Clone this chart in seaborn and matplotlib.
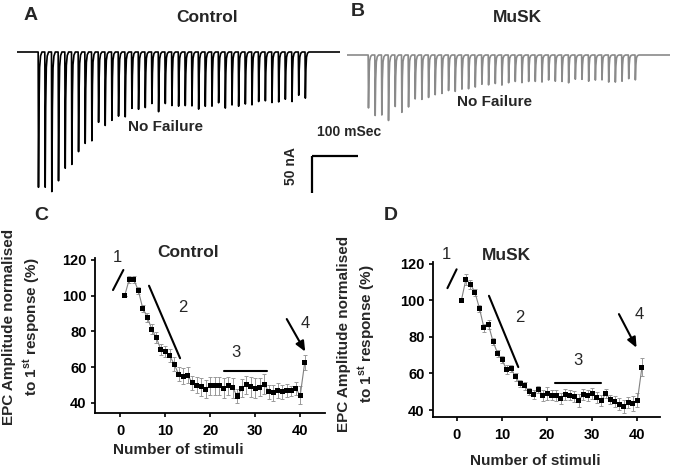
import numpy as np
import pandas as pd
import matplotlib
matplotlib.use("Agg")
import matplotlib.pyplot as plt
import seaborn as sns

sns.set_theme(style="ticks")
plt.rcParams["font.family"] = ["Liberation Sans", "DejaVu Sans"]
plt.rcParams["mathtext.fontset"] = "custom"
plt.rcParams["mathtext.rm"] = "Liberation Sans"
plt.rcParams["mathtext.bf"] = "Liberation Sans:bold"

# ---- data -------------------------------------------------------------
# peak EPC amplitudes (nA) of the two example recordings, one per stimulus
control_trace_nA = [184, 190, 200, 177, 167, 153, 140, 131, 122, 101, 100, 96, 92, 89,
                    81, 78, 78, 74, 82, 74, 73, 76, 77, 74, 82, 74, 76, 73, 77, 76,
                    74, 73, 76, 68, 70, 69, 70, 68, 68, 62, 63]
musk_trace_nA = [72, 85, 86, 90, 74, 78, 73, 63, 61, 61, 54, 54, 51, 50, 49, 46, 45,
                 42, 41, 41, 41, 39, 38, 38, 38, 36, 38, 36, 36, 38, 38, 34, 35, 36,
                 36, 34, 38, 39, 36, 34, 34]
first_spike_ms = 46.0
spike_interval_ms = 14.5
trace_len_ms = 702.0

stimuli = list(range(1, 42))
control_mean = [100, 109, 109, 103, 93, 88, 81.3, 76.7, 70, 68.7, 66.4, 61.6, 56, 55,
                55.6, 51.3, 50, 49, 47.6, 49.7, 49.5, 49.5, 48.2, 49.7, 48.5, 43.9,
                48.2, 50.2, 49, 48.2, 48.8, 50.6, 46.3, 45.8, 47, 46.3, 47, 46.7, 48,
                44.3, 62.7]
control_sem = [0, 2, 2, 2, 2, 2.5, 3, 3, 3, 3, 3.5, 4, 4, 4.5, 4.5, 4, 4.5, 5, 5, 5,
               5, 5, 5.5, 5, 5.5, 4, 5, 5, 5.5, 5.5, 5, 5.5, 4, 4.5, 4, 4, 3.5, 3,
               3.5, 5, 4]
musk_mean = [100.2, 111.6, 108.9, 104.3, 95.6, 84.9, 86.6, 77.5, 71.1, 67.5, 62.1,
             62.7, 58.1, 54.5, 53.2, 50.3, 48.5, 51.2, 48.2, 49.1, 48.2, 48.2, 46.4,
             48.7, 48.2, 47.2, 45.4, 48.5, 48.2, 49.1, 47, 45, 49.1, 45.8, 44.9, 43.3,
             41.8, 44, 43.6, 45.4, 63.5]
musk_sem = [0, 3, 2.5, 2, 2, 2, 2.5, 2, 2, 2, 2.5, 2, 2, 2, 2, 2, 2.5, 2, 3, 3.5,
            2.5, 3, 3, 3, 2.5, 3, 3.5, 3, 3, 3, 3, 3, 2.5, 2.5, 3, 3.5, 3.5, 3, 4, 4, 5]

# spike waveform template (time after stimulus in ms, fraction of peak)
kernel_t = [0, 0.7, 1.6, 3.0, 5.0, 8.0]
kernel_v = [0, -1.0, -0.45, -0.12, -0.03, 0]

W, H = 675, 470
NA_PER_PX = 1.35
MS_PER_PX = 100 / 46


def px_axes(fig, x0, y0, x1, y1):
    return fig.add_axes([x0 / W, 1 - y1 / H, (x1 - x0) / W, (y1 - y0) / H])


def build_trace(amps):
    t = np.linspace(0, trace_len_ms, 4000)
    v = np.zeros_like(t)
    for i, a in enumerate(amps):
        t0 = first_spike_ms + i * spike_interval_ms
        v += a * np.interp(t - t0, kernel_t, kernel_v, left=0, right=0)
    return t, v


fig = plt.figure(figsize=(W / 100, H / 100), dpi=100)

# ---- A / B traces -----------------------------------------------------
for amps, x0, base, col in [(control_trace_nA, 17, 52, "black"),
                            (musk_trace_nA, 347, 55, "#8a8a8a")]:
    ax = px_axes(fig, x0, 0, x0 + 323, 215)
    t, v = build_trace(amps)
    ax.plot(t, v, color=col, lw=1.2)
    ax.set_xlim(0, trace_len_ms)
    ax.set_ylim(-(215 - base) * NA_PER_PX, base * NA_PER_PX)
    ax.axis("off")
    if x0 == 17:
        ax_a = ax

# scale bar (100 ms, 50 nA)
bx = (312 - 17) * MS_PER_PX
by = -(156 - 52) * NA_PER_PX
ax_a.plot([bx, bx + 100], [by, by], color="black", lw=1.6, clip_on=False,
          solid_capstyle="butt")
ax_a.plot([bx, bx], [by, by - 50], color="black", lw=1.6, clip_on=False,
          solid_capstyle="butt")
ax_a.text(bx + 10, by + 32, "100 mSec", fontsize=10, fontweight="bold",
          ha="left", va="center", clip_on=False)
ax_a.text(bx - 45, by - 13, "50 nA", fontsize=10, fontweight="bold",
          ha="center", va="center", rotation=90, clip_on=False)

fig.text(31 / W, 1 - 15 / H, "A", fontsize=14, fontweight="bold", ha="center", va="center")
fig.text(358 / W, 1 - 12 / H, "B", fontsize=14, fontweight="bold", ha="center", va="center")
fig.text(207 / W, 1 - 17 / H, "Control", fontsize=12.5, fontweight="bold", ha="center", va="center")
fig.text(517 / W, 1 - 18 / H, "MuSK", fontsize=12.5, fontweight="bold", ha="center", va="center")
fig.text(166 / W, 1 - 127 / H, "No Failure", fontsize=11, fontweight="bold", ha="center", va="center")
fig.text(495 / W, 1 - 102 / H, "No Failure", fontsize=11, fontweight="bold", ha="center", va="center")

# ---- C / D summary plots ---------------------------------------------
panels = [
    dict(box=(95, 258, 325, 413), ylim=(34.4, 121), xlim=(-5.6, 45.5),
         mean=control_mean, sem=control_sem, title="Control", title_xy=(15.1, 123.8),
         letter="C", letter_px=(41, 216), ylab_px=(22.5, 327), xlab_px=(178, 450),
         ann=[("1", (-0.7, 121)), ("2", (14, 93.6)), ("3", (25.8, 68.1)), ("4", (41.1, 84.5))],
         seg1=((-1.6, 103.1), (0.7, 114.3)), seg2=((6.4, 105.5), (13.3, 65)),
         seg3=((23, 32.6), 57.9), arrow=((37, 86.9), (41.1, 68.7))),
    dict(box=(433, 262, 660, 417), ylim=(36.2, 121), xlim=(-5.3, 45),
         mean=musk_mean, sem=musk_sem, title="MuSK", title_xy=(10.9, 124.5),
         letter="D", letter_px=(391, 216), ylab_px=(357.5, 334), xlab_px=(535, 461),
         ann=[("1", (-2.3, 125.2)), ("2", (13.9, 90.4)), ("3", (26.8, 67.2)), ("4", (40.3, 92.5))],
         seg1=((-2.1, 106.7), (-0.07, 117)), seg2=((7.1, 102.5), (13.6, 63.5)),
         seg3=((21.8, 32), 54.8), arrow=((35.9, 92.5), (39.8, 74.1))),
]

for p in panels:
    ax = px_axes(fig, *p["box"])
    df = pd.DataFrame({"stim": stimuli, "amp": p["mean"], "sem": p["sem"]})
    ax.errorbar(df["stim"], df["amp"], yerr=df["sem"], fmt="none", ecolor="#9a9a9a",
                elinewidth=0.7, capsize=1.6, capthick=0.7, zorder=1)
    sns.lineplot(data=df, x="stim", y="amp", ax=ax, color="#808080", lw=0.8, zorder=2)
    sns.scatterplot(data=df, x="stim", y="amp", ax=ax, marker="s", s=13,
                    color="black", edgecolor="none", zorder=3)
    ax.set_xlim(*p["xlim"])
    ax.set_ylim(*p["ylim"])
    ax.set_xticks([0, 10, 20, 30, 40])
    ax.set_yticks([40, 60, 80, 100, 120])
    ax.set_xlabel("")
    ax.set_ylabel("")
    sns.despine(ax=ax)
    for s in ["left", "bottom"]:
        ax.spines[s].set_linewidth(1.3)
        ax.spines[s].set_color("black")
    ax.tick_params(direction="out", length=3, width=1.2, pad=3, labelsize=10.5,
                   colors="black")
    ax.tick_params(axis="x", pad=5)
    for lab in ax.get_xticklabels() + ax.get_yticklabels():
        lab.set_fontweight("bold")

    ax.text(*p["title_xy"], p["title"], fontsize=12.5, fontweight="bold",
            ha="center", va="center", clip_on=False)
    for txt, xy in p["ann"]:
        ax.text(*xy, txt, fontsize=12, ha="center", va="center", clip_on=False)
    (x1, y1), (x2, y2) = p["seg1"]
    ax.plot([x1, x2], [y1, y2], color="black", lw=1.5, clip_on=False)
    (x1, y1), (x2, y2) = p["seg2"]
    ax.plot([x1, x2], [y1, y2], color="black", lw=1.5, clip_on=False)
    (x1, x2), y3 = p["seg3"]
    ax.plot([x1, x2], [y3, y3], color="black", lw=1.5)
    a0, a1 = p["arrow"]
    ax.annotate("", xy=a1, xytext=a0,
                arrowprops=dict(arrowstyle="-|>,head_length=0.5,head_width=0.22",
                                color="black", lw=1.5, shrinkA=0, shrinkB=0))

    fig.text(p["letter_px"][0] / W, 1 - p["letter_px"][1] / H, p["letter"],
             fontsize=14, fontweight="bold", ha="center", va="center")
    fig.text(p["ylab_px"][0] / W, 1 - p["ylab_px"][1] / H,
             "EPC Amplitude normalised\nto 1$^{\\mathbf{st}}$ response (%)",
             fontsize=11, fontweight="bold", ha="center", va="center",
             rotation=90, linespacing=1.35)
    fig.text(p["xlab_px"][0] / W, 1 - p["xlab_px"][1] / H, "Number of stimuli",
             fontsize=11, fontweight="bold", ha="center", va="center")

fig.savefig("out.png", dpi=100)
